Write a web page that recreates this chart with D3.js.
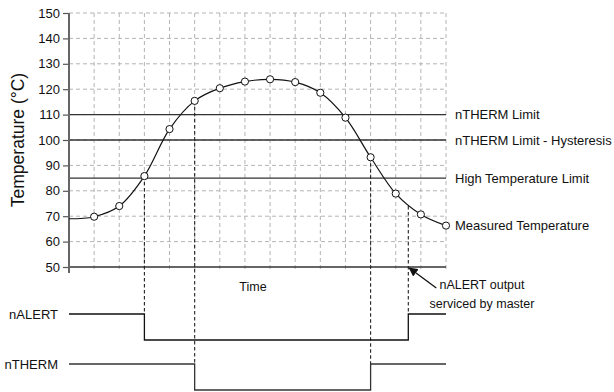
<!DOCTYPE html>
<html>
<head>
<meta charset="utf-8">
<script src="https://cdn.jsdelivr.net/npm/d3@7"></script>
<style>
  body { margin: 0; background: #fff; }
  text { font-family: "Liberation Sans", Arial, sans-serif; fill: #111; }
</style>
</head>
<body>
<div class="canva"></div>
<script>
// sample index along the time axis (0..15) and measured temperature
const times = [0, 1, 2, 3, 4, 5, 6, 7, 8, 9, 10, 11, 12, 13, 14, 15];
const temps = [69, 69.8, 74, 85.8, 104.3, 115.4, 120.4, 123, 123.9, 122.8, 118.6, 108.8, 93.2, 78.9, 70.7, 66.3];

const yTicks = [50, 60, 70, 80, 90, 100, 110, 120, 130, 140, 150];
const limits = [
  {name: "nTHERM Limit", value: 110},
  {name: "nTHERM Limit - Hysteresis", value: 100},
  {name: "High Temperature Limit", value: 85}
];

const signals = ["nALERT", "nTHERM"];
const alertEdges = [3, 13.5];
const thermEdges = [5, 12];

// dashed markers: time, temperature where they start, signal they drop to
const events = [
  {t: 3, temp: 85.8, sig: "nALERT"},
  {t: 5, temp: 115.4, sig: "nTHERM"},
  {t: 12, temp: 93.2, sig: "nTHERM"},
  {t: 13.5, temp: 74, sig: "nALERT"}
];

const svg = d3.select(".canva").append("svg")
    .attr("width", 614)
    .attr("height", 392);

const x = d3.scaleLinear().domain([0, 15]).range([69, 446]);
const y = d3.scaleLinear().domain([50, 150]).range([267, 13]);
const sigY = d3.scalePoint().domain(signals).range([314, 364]);
const levelDrop = 26;

// grid
svg.append("g").selectAll("line")
    .data(yTicks.slice(1))
    .enter().append("line")
    .attr("x1", x(0)).attr("x2", x(15))
    .attr("y1", d => y(d)).attr("y2", d => y(d))
    .attr("stroke", "#b4b4b4")
    .attr("stroke-dasharray", "4,3");

svg.append("g").selectAll("line")
    .data(times.slice(1))
    .enter().append("line")
    .attr("x1", d => x(d)).attr("x2", d => x(d))
    .attr("y1", y(150)).attr("y2", y(50) + 5)
    .attr("stroke", "#b4b4b4")
    .attr("stroke-dasharray", "4,3");

// limit lines
svg.append("g").selectAll("line")
    .data(limits)
    .enter().append("line")
    .attr("x1", x(0)).attr("x2", x(15))
    .attr("y1", d => y(d.value)).attr("y2", d => y(d.value))
    .attr("stroke", "#333")
    .attr("stroke-width", 1.3);

svg.append("g").selectAll("text")
    .data(limits)
    .enter().append("text")
    .attr("x", x(15) + 9)
    .attr("y", d => y(d.value))
    .attr("dy", "0.35em")
    .attr("font-size", 13)
    .text(d => d.name);

// y axis
const yAxis = d3.axisLeft(y).tickValues(yTicks).tickSize(6).tickPadding(3);
const yAxisGroup = svg.append("g")
    .attr("transform", `translate(${x(0)},0)`)
    .call(yAxis);
yAxisGroup.select(".domain").remove();
yAxisGroup.selectAll(".tick line").attr("stroke", "#555").attr("stroke-width", 1.2);
yAxisGroup.selectAll(".tick text")
    .attr("font-size", 13)
    .attr("font-family", "Liberation Sans, Arial, sans-serif")
    .attr("fill", "#111");

svg.append("line")
    .attr("x1", x(0)).attr("x2", x(15))
    .attr("y1", y(50)).attr("y2", y(50))
    .attr("stroke", "#333")
    .attr("stroke-width", 1.3);

svg.append("line")
    .attr("x1", x(0)).attr("x2", x(0))
    .attr("y1", y(150)).attr("y2", y(50) + 6)
    .attr("stroke", "#666")
    .attr("stroke-width", 2);

svg.append("text")
    .attr("transform", `translate(24,${(y(50) + y(150)) / 2}) rotate(-90)`)
    .attr("text-anchor", "middle")
    .attr("font-size", 17.5)
    .text("Temperature (°C)");

svg.append("text")
    .attr("x", 253)
    .attr("y", 287)
    .attr("dy", "0.35em")
    .attr("text-anchor", "middle")
    .attr("font-size", 12.5)
    .text("Time");

// dashed event markers
svg.append("g").selectAll("line")
    .data(events)
    .enter().append("line")
    .attr("x1", d => x(d.t)).attr("x2", d => x(d.t))
    .attr("y1", d => y(d.temp)).attr("y2", d => sigY(d.sig))
    .attr("stroke", "#222")
    .attr("stroke-width", 1.1)
    .attr("stroke-dasharray", "3.5,2.5");

// measured temperature curve
const series = times.map((t, i) => ({t: t, v: temps[i]}));
const line = d3.line()
    .x(d => x(d.t))
    .y(d => y(d.v))
    .curve(d3.curveCatmullRom.alpha(0.5));

svg.append("path")
    .datum(series)
    .attr("d", line)
    .attr("fill", "none")
    .attr("stroke", "#111")
    .attr("stroke-width", 1.2);

svg.append("g").selectAll("circle")
    .data(series.slice(1))
    .enter().append("circle")
    .attr("cx", d => x(d.t))
    .attr("cy", d => y(d.v))
    .attr("r", 3.6)
    .attr("fill", "#fff")
    .attr("stroke", "#111")
    .attr("stroke-width", 1);

svg.append("text")
    .attr("x", x(15) + 9)
    .attr("y", y(temps[temps.length - 1]))
    .attr("dy", "0.35em")
    .attr("font-size", 13)
    .text("Measured Temperature");

// digital signals
function wave(edges) {
  const pts = [[0, 1]];
  let level = 1;
  edges.forEach(e => {
    pts.push([e, level]);
    level = 1 - level;
    pts.push([e, level]);
  });
  pts.push([15, level]);
  return pts;
}

const waves = [
  {sig: "nALERT", pts: wave(alertEdges), color: "#111"},
  {sig: "nTHERM", pts: wave(thermEdges), color: "#333"}
];

svg.append("g").selectAll("path")
    .data(waves)
    .enter().append("path")
    .attr("d", w => d3.line()
        .x(p => x(p[0]))
        .y(p => sigY(w.sig) + (1 - p[1]) * levelDrop)(w.pts))
    .attr("fill", "none")
    .attr("stroke", w => w.color)
    .attr("stroke-width", 1.3);

svg.append("g").selectAll("text")
    .data(signals)
    .enter().append("text")
    .attr("x", 58)
    .attr("y", d => sigY(d))
    .attr("dy", "0.35em")
    .attr("text-anchor", "end")
    .attr("font-size", 13)
    .text(d => d);

// annotation arrow
svg.append("defs").append("marker")
    .attr("id", "arrow")
    .attr("viewBox", "0 0 10 10")
    .attr("refX", 9).attr("refY", 5)
    .attr("markerWidth", 7).attr("markerHeight", 7)
    .attr("orient", "auto")
  .append("path")
    .attr("d", "M0,0L10,5L0,10Z")
    .attr("fill", "#111");

const tip = [x(alertEdges[1]) + 1, y(50) + 1];
svg.append("line")
    .attr("x1", tip[0] + 27).attr("y1", tip[1] + 20)
    .attr("x2", tip[0]).attr("y2", tip[1])
    .attr("stroke", "#111")
    .attr("stroke-width", 1.3)
    .attr("marker-end", "url(#arrow)");

svg.append("text")
    .attr("x", 482)
    .attr("y", 285)
    .attr("dy", "0.35em")
    .attr("text-anchor", "middle")
    .attr("font-size", 12.5)
    .selectAll("tspan")
    .data(["nALERT output", "serviced by master"])
    .enter().append("tspan")
    .attr("x", 482)
    .attr("dy", (d, i) => i === 0 ? "0.35em" : "1.45em")
    .text(d => d);
</script>
</body>
</html>
